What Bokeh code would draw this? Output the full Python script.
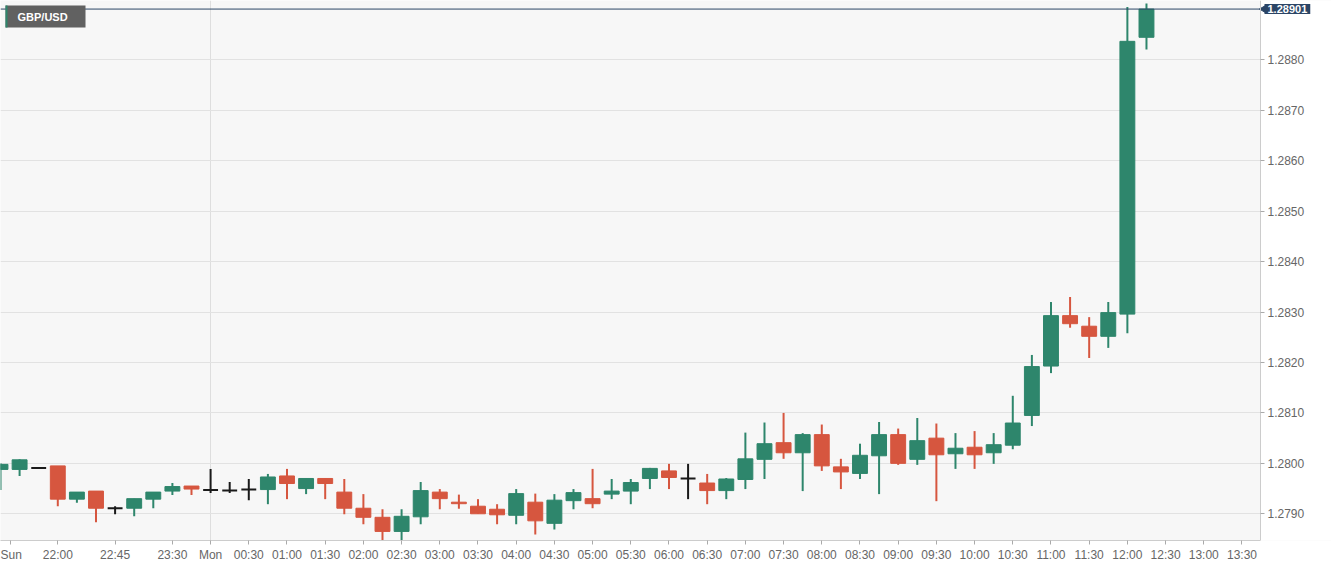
import math
from bokeh.plotting import figure
from bokeh.models import (ColumnDataSource, FixedTicker, Range1d, Label,
                          BoxAnnotation, NumeralTickFormatter)
from bokeh.embed import file_html
from bokeh.resources import INLINE

# ---------------- data (15-minute GBP/USD candles, Sun 21:15 -> Mon 12:15) ----------------
opens = [1.27988, 1.27988, 1.27991, 1.27995, 1.27929, 1.27945, 1.27911, 1.27911, 1.27929, 1.27945,
         1.27955, 1.27947, 1.27946, 1.27948, 1.27948, 1.27975, 1.27950, 1.27970, 1.27943, 1.27911,
         1.27893, 1.27865, 1.27894, 1.27943, 1.27923, 1.27915, 1.27909, 1.27897, 1.27923, 1.27881,
         1.27926, 1.27930, 1.27939, 1.27945, 1.27970, 1.27985, 1.27970, 1.27961, 1.27946, 1.27968,
         1.28008, 1.28041, 1.28021, 1.28057, 1.27993, 1.27980, 1.28015, 1.28057, 1.28008, 1.28050,
         1.28019, 1.28032, 1.28021, 1.28036, 1.28095, 1.28193, 1.28293, 1.28272, 1.28252, 1.28296,
         1.28845]
highs = [1.28000, 1.28008, 1.27991, 1.27995, 1.27943, 1.27945, 1.27915, 1.27930, 1.27943, 1.27961,
         1.27955, 1.27989, 1.27963, 1.27969, 1.27979, 1.27989, 1.27970, 1.27970, 1.27969, 1.27939,
         1.27909, 1.27909, 1.27963, 1.27949, 1.27938, 1.27929, 1.27919, 1.27949, 1.27940, 1.27939,
         1.27949, 1.27989, 1.27969, 1.27969, 1.27991, 1.27999, 1.27999, 1.27979, 1.27971, 1.28061,
         1.28081, 1.28100, 1.28060, 1.28077, 1.28009, 1.28039, 1.28082, 1.28069, 1.28090, 1.28079,
         1.28060, 1.28064, 1.28060, 1.28134, 1.28215, 1.28320, 1.28330, 1.28290, 1.28320, 1.28905,
         1.28912]
lows = [1.27947, 1.27975, 1.27991, 1.27915, 1.27922, 1.27883, 1.27899, 1.27895, 1.27911, 1.27937,
        1.27937, 1.27941, 1.27941, 1.27927, 1.27919, 1.27929, 1.27939, 1.27929, 1.27899, 1.27879,
        1.27848, 1.27848, 1.27879, 1.27909, 1.27910, 1.27900, 1.27879, 1.27879, 1.27859, 1.27869,
        1.27909, 1.27911, 1.27929, 1.27919, 1.27949, 1.27949, 1.27929, 1.27919, 1.27929, 1.27949,
        1.27969, 1.28009, 1.27945, 1.27985, 1.27949, 1.27969, 1.27939, 1.27997, 1.27997, 1.27925,
        1.27989, 1.27989, 1.27999, 1.28028, 1.28074, 1.28179, 1.28269, 1.28209, 1.28229, 1.28258,
        1.28821]
closes = [1.27998, 1.28007, 1.27991, 1.27929, 1.27943, 1.27911, 1.27911, 1.27930, 1.27943, 1.27954,
          1.27949, 1.27947, 1.27946, 1.27948, 1.27973, 1.27960, 1.27970, 1.27960, 1.27911, 1.27893,
          1.27865, 1.27895, 1.27946, 1.27930, 1.27920, 1.27900, 1.27898, 1.27940, 1.27886, 1.27927,
          1.27942, 1.27920, 1.27945, 1.27962, 1.27990, 1.27972, 1.27970, 1.27946, 1.27969, 1.28009,
          1.28039, 1.28021, 1.28057, 1.27995, 1.27983, 1.28016, 1.28057, 1.28000, 1.28045, 1.28017,
          1.28030, 1.28017, 1.28037, 1.28080, 1.28192, 1.28293, 1.28277, 1.28252, 1.28299, 1.28837,
          1.28901]

last_price = 1.28901
symbol = "GBP/USD"

# x-axis ticks (slot index of 15-minute candles, slot 0 = Sun 21:15)
tick_slots = [0.5, 3, 6, 9, 11, 13, 15, 17, 19, 21, 23, 25, 27, 29, 31, 33, 35, 37, 39, 41,
              43, 45, 47, 49, 51, 53, 55, 57, 59, 61, 63, 65]
tick_labels = ["Sun", "22:00", "22:45", "23:30", "Mon", "00:30", "01:00", "01:30", "02:00",
               "02:30", "03:00", "03:30", "04:00", "04:30", "05:00", "05:30", "06:00", "06:30",
               "07:00", "07:30", "08:00", "08:30", "09:00", "09:30", "10:00", "10:30", "11:00",
               "11:30", "12:00", "12:30", "13:00", "13:30"]
day_break_slots = [11]
price_ticks = [1.2790, 1.2800, 1.2810, 1.2820, 1.2830, 1.2840, 1.2850, 1.2860, 1.2870, 1.2880]

# ---------------- styling / geometry ----------------
GREEN = "#2e866c"
RED = "#d6563f"
DOJI = "#1a1a1a"
NAVY = "#2b4566"
W, H = 1331, 566
BB = 26                      # bottom axis band
CHART_W = 1260               # width of the candle area; the rest is the price scale
FH = H - BB
X0, X1 = 0.0, 65.97          # visible slots in the candle area
Y0, Y1 = 1.27847, 1.28918
px_x = (X1 - X0) / CHART_W
px_y = (Y1 - Y0) / FH
X_END = X1 + (W - CHART_W) * px_x
FONT = "Liberation Sans"

slots = list(range(len(opens)))
colors = [GREEN if c > o else (RED if c < o else DOJI) for o, c in zip(opens, closes)]
src = ColumnDataSource(dict(
    x=slots,
    top=[max(o, c) for o, c in zip(opens, closes)],
    bottom=[min(o, c) for o, c in zip(opens, closes)],
    high=highs, low=lows, color=colors,
    lw=[2 if o == c else 1 for o, c in zip(opens, closes)],
))

p = figure(width=W, height=H, x_range=Range1d(X0, X_END), y_range=Range1d(Y0, Y1),
           output_backend="svg", toolbar_location=None, y_axis_location="right",
           min_border_left=0, min_border_top=0, min_border_right=0, min_border_bottom=BB,
           background_fill_color="#f7f7f7", border_fill_color="#ffffff")
p.outline_line_color = None

# white band behind the price scale
p.add_layout(BoxAnnotation(left=X1, right=X_END, bottom=Y0, top=Y1, level="underlay",
                           fill_color="#ffffff", fill_alpha=1, line_alpha=0))

p.segment(x0="x", y0="high", x1="x", y1="low", source=src, line_color="color", line_width=2)
p.vbar(x="x", width=0.78, top="top", bottom="bottom", source=src,
       fill_color="color", line_color="color", line_width="lw")

# axes
for ax in (p.xaxis[0], p.yaxis[0]):
    ax.axis_line_color = "#cccccc"
    ax.major_tick_line_color = "#aaaaaa"
    ax.minor_tick_line_color = None
    ax.major_tick_in = 0
    ax.major_tick_out = 4
    ax.major_label_standoff = 3
    ax.major_label_text_color = "#666666"
    ax.major_label_text_font = FONT
    ax.major_label_text_font_size = "12px"

p.xaxis[0].ticker = FixedTicker(ticks=tick_slots)
p.xaxis[0].major_label_overrides = {k: v for k, v in zip(tick_slots, tick_labels)}
p.xaxis[0].bounds = (X0, X1)
p.yaxis[0].ticker = FixedTicker(ticks=price_ticks)
p.yaxis[0].formatter = NumeralTickFormatter(format="0.0000")
p.yaxis[0].fixed_location = X1

p.xgrid.ticker = FixedTicker(ticks=day_break_slots)
p.xgrid.grid_line_color = "#dedede"
p.ygrid.ticker = FixedTicker(ticks=price_ticks)
p.ygrid.grid_line_color = "#e2e2e2"
p.ygrid.bounds = (X0, X1)

# last price line and tag
p.line(x=[X0, X1], y=[last_price, last_price], line_color=NAVY, line_width=1)
p.scatter(x=[X1 + 3 * px_x], y=[last_price], marker="triangle", angle=math.pi / 2,
          size=7, fill_color=NAVY, line_color=NAVY)
p.add_layout(Label(x=X1, y=last_price, x_offset=4, text=f"{last_price:.5f}",
                   text_align="left", text_baseline="middle", text_color="white",
                   text_font=FONT, text_font_style="bold", text_font_size="11px",
                   background_fill_color=NAVY, padding=(3, 1)))

# symbol tag, top-left
p.add_layout(BoxAnnotation(left=X0 + 5 * px_x, right=X0 + 85 * px_x,
                           top=Y1 - 5 * px_y, bottom=Y1 - 27 * px_y,
                           fill_color="#616161", fill_alpha=1, line_alpha=0))
p.add_layout(BoxAnnotation(left=X0 + 5 * px_x, right=X0 + 7 * px_x,
                           top=Y1 - 5 * px_y, bottom=Y1 - 27 * px_y,
                           fill_color=GREEN, fill_alpha=1, line_alpha=0))
p.add_layout(Label(x=X0 + 17 * px_x, y=Y1 - 16 * px_y, text=symbol,
                   text_align="left", text_baseline="middle", text_color="white",
                   text_font=FONT, text_font_style="bold", text_font_size="11px"))

open("out.html", "w").write(file_html(p, INLINE))
